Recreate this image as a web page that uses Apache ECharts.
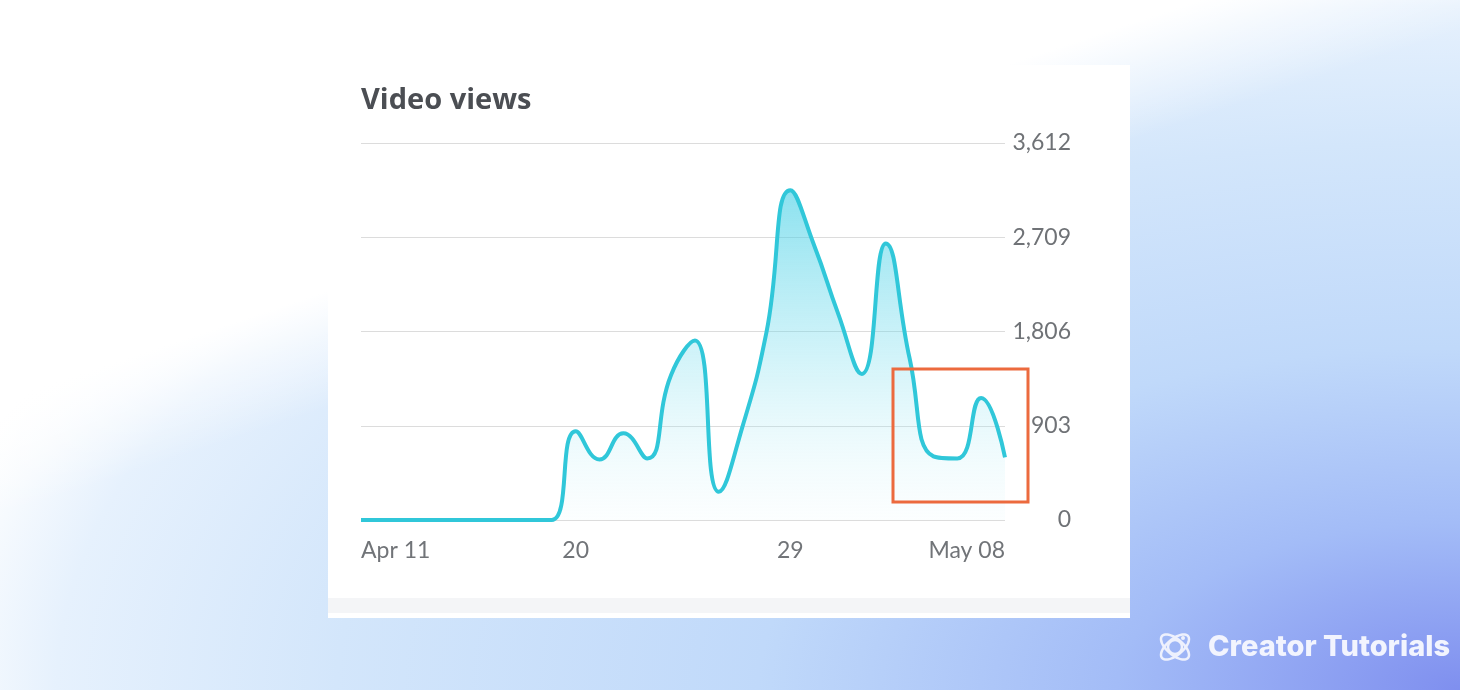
<!DOCTYPE html>
<html><head><meta charset="utf-8">
<script src="https://cdn.jsdelivr.net/npm/echarts@6/dist/echarts.min.js"></script>
<style>
html,body{margin:0;padding:0;width:1460px;height:690px;overflow:hidden;}
body{background:
  linear-gradient(161.57deg, #ffffff 0%, #ffffff 34%, rgba(255,255,255,0.55) 38%, rgba(255,255,255,0) 44%),
  radial-gradient(ellipse 1560px 760px at 100% 100%, #7f8fef 0%, #a3bcf7 22%, #c0d9fa 45%, #d3e6fb 72%, #e6f1fd 90%, #f6fafe 96%, #ffffff 100%);}
#card{position:absolute;left:328px;top:65px;width:802px;height:553px;background:#fff;}
#band{position:absolute;left:0;top:533px;width:802px;height:15px;background:#f4f5f7;}
#chart{position:absolute;left:0;top:0;width:1460px;height:690px;}
</style></head>
<body>
<div id="card"><div id="band"></div></div>
<div id="chart"></div>
<script>
// ---- data ----
const dates = ['Apr 11','Apr 12','Apr 13','Apr 14','Apr 15','Apr 16','Apr 17','Apr 18','Apr 19','Apr 20',
  'Apr 21','Apr 22','Apr 23','Apr 24','Apr 25','Apr 26','Apr 27','Apr 28','Apr 29','Apr 30',
  'May 01','May 02','May 03','May 04','May 05','May 06','May 07','May 08'];
const views = [0,0,0,0,0,0,0,0,0,850,
  580,830,590,1390,1720,270,900,1800,3160,2630,
  1980,1400,2650,1550,610,590,1170,600];
const tickLabels = {0:'Apr 11', 9:'20', 18:'29', 27:'May 08'};
const yMax = 3612;
const yInterval = 903;
const title = 'Video views';
const brand = 'Creator Tutorials';

// logo orbit outline (decoration only)
function orbit(rx, ry, rot, cx, cy) {
  const pts = [];
  for (let k = 0; k < 60; k++) {
    const a = k / 60 * Math.PI * 2;
    const x = rx * Math.cos(a), y = ry * Math.sin(a);
    pts.push([cx + x * Math.cos(rot) - y * Math.sin(rot), cy + x * Math.sin(rot) + y * Math.cos(rot)]);
  }
  return pts;
}

const chart = echarts.init(document.getElementById('chart'), null, {renderer:'canvas'});
const labelFont = 'Lato, "Open Sans", sans-serif';
const iconColor = '#eef1fd';
chart.setOption({
  backgroundColor: 'transparent',
  animation: false,
  title: {
    text: title, left: 361, top: 86, padding: 0,
    textStyle: {fontFamily: '"Open Sans", sans-serif', fontWeight: 700, fontSize: 29, color: '#4b4e53'}
  },
  grid: {left: 361, right: 455, top: 143, bottom: 170, containLabel: false},
  xAxis: {
    type: 'category', data: dates, boundaryGap: false,
    axisLine: {show: false}, axisTick: {show: false},
    axisLabel: {
      interval: 8, margin: 19, color: '#717478', fontSize: 23, fontFamily: labelFont,
      alignMinLabel: 'left', alignMaxLabel: 'right',
      formatter: (v, i) => tickLabels[i] || ''
    },
    splitLine: {show: false}
  },
  yAxis: {
    type: 'value', position: 'right', min: 0, max: yMax, interval: yInterval,
    axisLine: {show: false}, axisTick: {show: false},
    axisLabel: {
      align: 'right', margin: 66, color: '#6f7276', fontSize: 23, fontFamily: labelFont,
      formatter: v => v.toLocaleString('en-US')
    },
    splitLine: {show: true, lineStyle: {color: '#dcdcdc', width: 1}}
  },
  series: [{
    type: 'line', data: views, smooth: true, symbol: 'none',
    lineStyle: {color: '#30c7d9', width: 4},
    areaStyle: {
      color: {type: 'linear', x: 0, y: 0, x2: 0, y2: 1, colorStops: [
        {offset: 0, color: 'rgba(60,205,228,0.85)'},
        {offset: 0.5, color: 'rgba(110,218,236,0.45)'},
        {offset: 1, color: 'rgba(220,246,250,0.15)'}
      ]}
    }
  }],
  graphic: [
    {type: 'rect', shape: {x: 893, y: 369, width: 135, height: 133},
     style: {fill: 'none', stroke: '#ec6a3e', lineWidth: 3}, z: 100},
    {type: 'polygon', shape: {points: orbit(17, 8, Math.PI / 4.5, 1175, 647)},
     style: {fill: 'none', stroke: iconColor, lineWidth: 2.5}},
    {type: 'polygon', shape: {points: orbit(17, 8, -Math.PI / 4.5, 1175, 647)},
     style: {fill: 'none', stroke: iconColor, lineWidth: 2.5}},
    {type: 'circle', shape: {cx: 1175, cy: 647, r: 7}, style: {fill: 'none', stroke: iconColor, lineWidth: 2.5}},
    {type: 'circle', shape: {cx: 1183, cy: 638, r: 2}, style: {fill: iconColor}},
    {type: 'text', x: 1208, y: 647,
     style: {text: brand, fill: '#f2f4fe', font: '800 29px Inter, "Open Sans", sans-serif',
             textAlign: 'left', textVerticalAlign: 'middle'}}
  ]
});
</script>
</body></html>
